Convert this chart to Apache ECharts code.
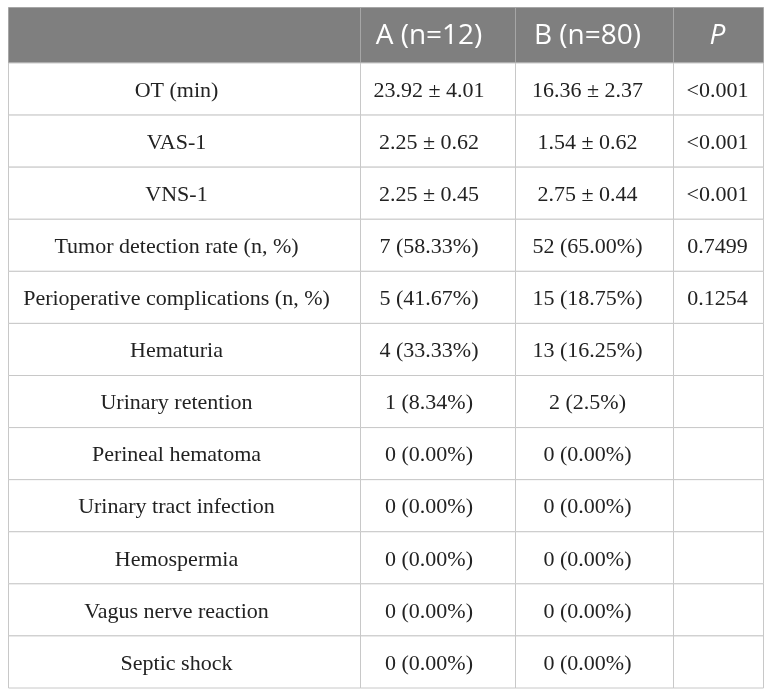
<!DOCTYPE html>
<html>
<head>
<meta charset="utf-8">
<script src="https://cdn.jsdelivr.net/npm/echarts@6/dist/echarts.min.js"></script>
<style>
html,body{margin:0;padding:0;background:#fff;}
#chart{width:772px;height:697px;}
</style>
</head>
<body>
<div id="chart"></div>
<script>
// ---- data ----
const headers = ['', 'A (n=12)', 'B (n=80)', 'P'];
const rowLabels = ['OT (min)', 'VAS-1', 'VNS-1', 'Tumor detection rate (n, %)',
  'Perioperative complications (n, %)', 'Hematuria', 'Urinary retention',
  'Perineal hematoma', 'Urinary tract infection', 'Hemospermia',
  'Vagus nerve reaction', 'Septic shock'];
const groupA = ['23.92 ± 4.01', '2.25 ± 0.62', '2.25 ± 0.45', '7 (58.33%)', '5 (41.67%)',
  '4 (33.33%)', '1 (8.34%)', '0 (0.00%)', '0 (0.00%)', '0 (0.00%)', '0 (0.00%)', '0 (0.00%)'];
const groupB = ['16.36 ± 2.37', '1.54 ± 0.62', '2.75 ± 0.44', '52 (65.00%)', '15 (18.75%)',
  '13 (16.25%)', '2 (2.5%)', '0 (0.00%)', '0 (0.00%)', '0 (0.00%)', '0 (0.00%)', '0 (0.00%)'];
const pValues = ['<0.001', '<0.001', '<0.001', '0.7499', '0.1254', '', '', '', '', '', '', ''];

const columns = [rowLabels, groupA, groupB, pValues];

// ---- layout ----
const colEdges = [8.5, 360.5, 515.5, 673.5, 763.5];
const labelShift = [-8, -9, -7, -1];
const headTop = 7.5, headH = 55.5, bodyTop = 63, bodyH = 625;

const chart = echarts.init(document.getElementById('chart'));
const grids = [], xAxes = [], yAxes = [], series = [];

function addCell(gi, rows, texts, isHeader, col) {
  xAxes.push({type: 'category', gridIndex: gi, data: ['c'], show: false, boundaryGap: true});
  yAxes.push({type: 'category', gridIndex: gi, data: rows.map((_, i) => String(i)), inverse: true, show: false});
  series.push({
    type: 'custom',
    xAxisIndex: gi, yAxisIndex: gi,
    silent: true,
    data: rows.map((_, i) => [0, i]),
    renderItem: function (params, api) {
      const c = api.coord([api.value(0), api.value(1)]);
      const s = api.size([1, 1]);
      const txt = texts[params.dataIndex];
      return {
        type: 'group',
        children: [
          {type: 'rect', shape: {x: c[0] - s[0] / 2, y: c[1] - s[1] / 2, width: s[0], height: s[1]},
           style: {fill: isHeader ? '#7f7f7f' : '#ffffff', stroke: isHeader ? '#a6a6a6' : '#c8c8c8', lineWidth: 1}},
          {type: 'text', x: c[0] + labelShift[col], y: c[1] + (isHeader ? 1 : 2),
           style: {text: txt, textAlign: 'center', textVerticalAlign: 'middle',
             fill: isHeader ? '#ffffff' : '#222222',
             fontFamily: isHeader ? 'Open Sans' : 'Liberation Serif',
             fontSize: isHeader ? 28 : 22,
             fontStyle: (isHeader && col === 3) ? 'italic' : 'normal'}}
        ]
      };
    }
  });
}

let gi = 0;
for (let col = 0; col < 4; col++) {
  const left = colEdges[col], w = colEdges[col + 1] - colEdges[col];
  grids.push({left: left, top: headTop, width: w, height: headH});
  addCell(gi++, [headers[col]], [headers[col]], true, col);
  grids.push({left: left, top: bodyTop, width: w, height: bodyH});
  addCell(gi++, columns[col], columns[col], false, col);
}

chart.setOption({
  backgroundColor: '#ffffff',
  animation: false,
  grid: grids,
  xAxis: xAxes,
  yAxis: yAxes,
  series: series
});
</script>
</body>
</html>
